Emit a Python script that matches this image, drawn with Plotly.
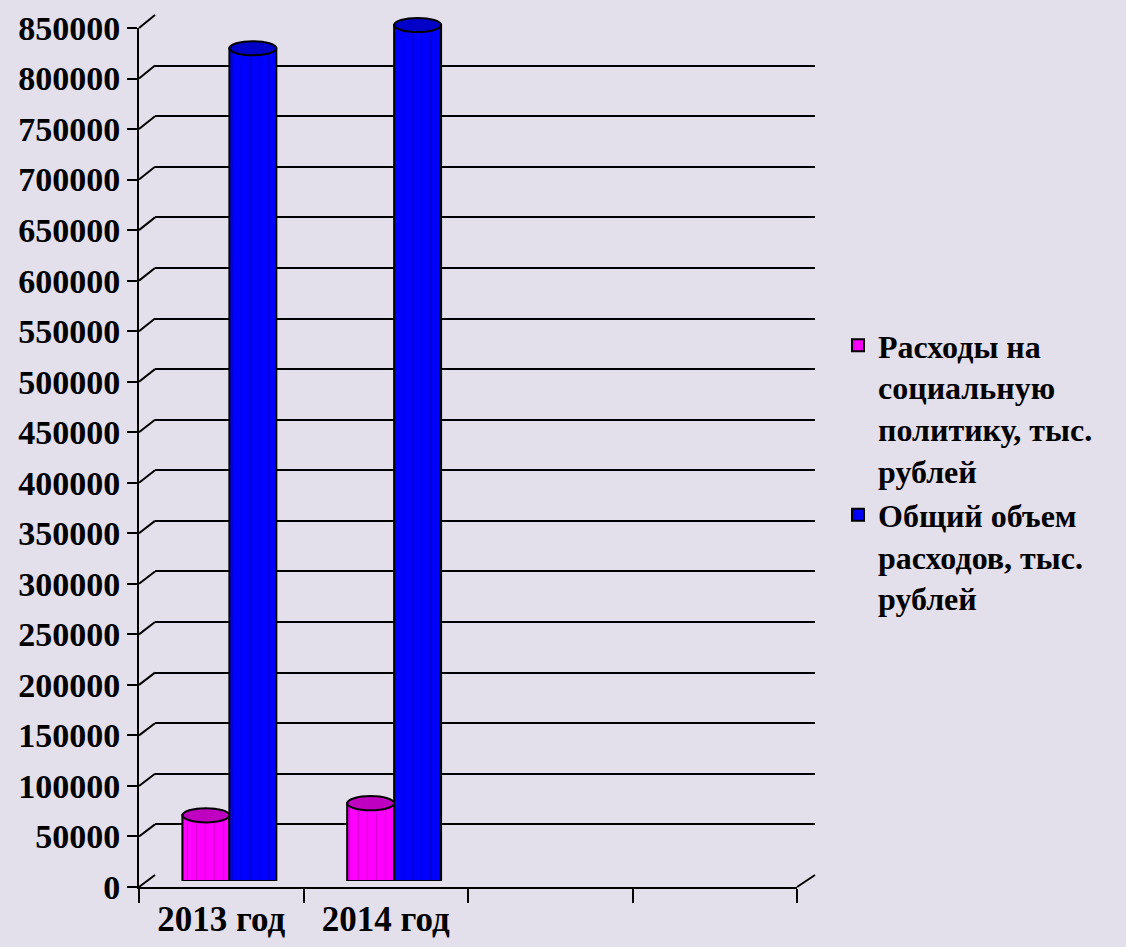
import plotly.graph_objects as go

categories = ["2013 год", "2014 год", " ", "  "]
years = ["2013 год", "2014 год"]
social = [65000, 77000]
total = [824000, 847000]
series_names = ["Расходы на<br>социальную<br>политику, тыс.<br>рублей",
                "Общий объем<br>расходов, тыс.<br>рублей"]
y_ticks = list(range(0, 850001, 50000))

W, H = 1126, 947
BG = "#E3DFEB"
FONT = "Liberation Serif, Times New Roman, serif"

def px(x):
    return x / W

def py(y):
    return 1 - y / H

YMAX = 850000
PX_PER_UNIT = 859 / YMAX
# domains
front_x = [px(139), px(797)]
front_y = [py(887), py(28)]
back_x = [px(155), px(815)]
back_y = [py(875), py(15)]
bar_x = [px(147), px(806)]
BAR_YMAX = 870000
bar_y = [py(881), py(881 - BAR_YMAX * PX_PER_UNIT)]

fig = go.Figure()

# empty traces so that the wall / front-axis subplots get drawn
fig.add_trace(go.Scatter(x=[None], y=[None], xaxis="x", yaxis="y",
                         showlegend=False, hoverinfo="skip"))
fig.add_trace(go.Scatter(x=[categories[0]], y=[None], xaxis="x2", yaxis="y2",
                         showlegend=False, hoverinfo="skip"))

colors = ["#FF00FF", "#0000FF"]
dark = ["#B000B0", "#0000B0"]
cap = ["#C000C0", "#0000C8"]
for name, vals, c, d in zip(series_names, [social, total], colors, dark):
    fig.add_trace(go.Bar(
        x=years, y=vals, name=name, xaxis="x3", yaxis="y3",
        marker=dict(color=c, line=dict(color="black", width=2),
                    pattern=dict(shape="|", fgcolor=d, size=9, solidity=0.15, fgopacity=0.5)),
        hoverinfo="x+y",
    ))

bw = 0.285
shapes = []
# cylinder caps
for si, vals in enumerate([social, total]):
    off = -bw / 2 if si == 0 else bw / 2
    for i, v in enumerate(vals):
        shapes.append(dict(type="circle", xref="x3", yref="y3",
                           x0=i + off - bw / 2, x1=i + off + bw / 2,
                           y0=v - 7000, y1=v + 7000,
                           fillcolor=cap[si], line=dict(color="black", width=2),
                           layer="above"))
# diagonal connectors from front axis ticks to back wall gridlines
for v in y_ticks:
    yf = front_y[0] + v / YMAX * (front_y[1] - front_y[0])
    yb = back_y[0] + v / YMAX * (back_y[1] - back_y[0])
    shapes.append(dict(type="line", xref="paper", yref="paper",
                       x0=front_x[0], y0=yf, x1=back_x[0], y1=yb,
                       line=dict(color="black", width=2), layer="below"))
# floor right edge
shapes.append(dict(type="line", xref="paper", yref="paper",
                   x0=front_x[1], y0=front_y[0], x1=back_x[1], y1=back_y[0],
                   line=dict(color="black", width=2), layer="below"))

fig.update_layout(
    width=W, height=H,
    margin=dict(l=0, r=0, t=0, b=0, autoexpand=False),
    paper_bgcolor=BG, plot_bgcolor="rgba(0,0,0,0)",
    font=dict(family=FONT, color="black"),
    barmode="group", bargap=0.43, bargroupgap=0,
    shapes=shapes,
    showlegend=True,
    legend=dict(x=px(838), y=py(318), xanchor="left", yanchor="top",
                font=dict(family=FONT, size=32, color="black", weight="bold"),
                bgcolor="rgba(0,0,0,0)", valign="top", tracegroupgap=2,
                itemwidth=30),
    # back wall gridlines
    xaxis=dict(domain=back_x, range=[0, 1], showgrid=False, zeroline=False,
               showticklabels=False, ticks="", showline=False, fixedrange=True),
    yaxis=dict(domain=back_y, range=[0, YMAX], dtick=50000, anchor="x",
               showgrid=True, gridcolor="black", gridwidth=2, zeroline=False,
               showticklabels=False, ticks="", showline=False, fixedrange=True),
    # front axes (ticks, labels)
    xaxis2=dict(domain=front_x, type="category", categoryorder="array",
                categoryarray=categories, tickvals=categories, ticktext=categories,
                range=[-0.5, 3.5], anchor="y2", automargin=False,
                showgrid=False, zeroline=False, showline=True, linecolor="black",
                linewidth=2, ticks="outside", tickson="boundaries", ticklen=14,
                tickwidth=2, tickcolor="black",
                tickfont=dict(family=FONT, size=35, color="black", weight="bold")),
    yaxis2=dict(domain=front_y, range=[0, YMAX], tickvals=y_ticks,
                ticktext=[str(v) for v in y_ticks], anchor="x2", automargin=False,
                showgrid=False, zeroline=False, showline=True, linecolor="black",
                linewidth=2, ticks="outside", ticklen=10, tickwidth=2,
                tickcolor="black",
                tickfont=dict(family=FONT, size=34, color="black", weight="bold")),
    # bar axes
    xaxis3=dict(domain=bar_x, type="category", categoryorder="array",
                categoryarray=categories, range=[-0.5, 3.5], anchor="y3",
                visible=False),
    yaxis3=dict(domain=bar_y, range=[0, BAR_YMAX], anchor="x3", visible=False),
)

fig.write_html("out.html", config={"displayModeBar": False},
               post_script="document.body.style.margin='0px';")
